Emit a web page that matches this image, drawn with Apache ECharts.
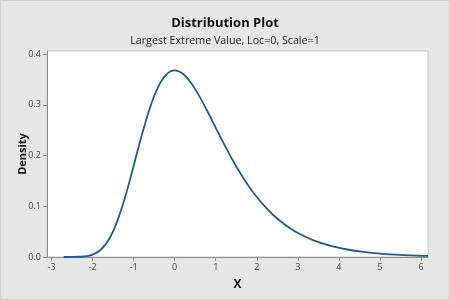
<!DOCTYPE html>
<html>
<head>
<meta charset="utf-8">
<script src="https://cdn.jsdelivr.net/npm/echarts@6/dist/echarts.min.js"></script>
<style>
  html, body { margin: 0; padding: 0; background: #e6e6e6; }
  #chart { width: 448px; height: 298px; border: 1px solid #cfcfcf; }
</style>
</head>
<body>
<div id="chart"></div>
<script>
// x positions and density
var xs = [-2.7, -2.5, -2.3, -2.1, -2.0, -1.8, -1.6, -1.4, -1.2, -1.0, -0.8, -0.6, -0.4, -0.2, 0,
  0.2, 0.4, 0.6, 0.8, 1.0, 1.2, 1.4, 1.6, 1.8, 2.0, 2.2, 2.4, 2.6, 2.8, 3.0, 3.4, 3.8, 4.2, 4.6, 5.0, 5.5, 6.0, 6.17];
var density = [0.0000, 0.0001, 0.0005, 0.0024, 0.0046, 0.0143, 0.0350, 0.0703, 0.1200, 0.1794, 0.2404, 0.2946, 0.3357, 0.3600, 0.3679,
  0.3611, 0.3429, 0.3170, 0.2867, 0.2546, 0.2229, 0.1927, 0.1650, 0.1401, 0.1182, 0.0992, 0.0828, 0.0690, 0.0572, 0.0474, 0.0323, 0.0219, 0.0148, 0.0100, 0.0067, 0.0041, 0.0025, 0.0021];
var xTicks = [-3, -2, -1, 0, 1, 2, 3, 4, 5, 6];
var yTicks = [0, 0.1, 0.2, 0.3, 0.4];

var chart = echarts.init(document.getElementById("chart"));
var font = "'Open Sans', 'Noto Sans', sans-serif";
var points = xs.map(function (x, i) { return [x, density[i]]; });

var option = {
  backgroundColor: "#e6e6e6",
  animation: false,
  title: [
    {
      text: "Distribution Plot",
      left: "center",
      top: 11,
      textStyle: { fontFamily: font, fontSize: 13, fontWeight: "bold", color: "#111" }
    },
    {
      text: "Largest Extreme Value, Loc=0, Scale=1",
      left: "center",
      top: 29,
      textStyle: { fontFamily: font, fontSize: 10.7, fontWeight: "normal", color: "#222" }
    }
  ],
  grid: {
    left: 46, top: 50, right: 21, bottom: 42,
    show: true,
    backgroundColor: "#fff",
    borderColor: "#c8c8c8",
    borderWidth: 1
  },
  xAxis: {
    type: "value",
    min: -3.11,
    max: 6.17,
    name: "X",
    nameLocation: "middle",
    nameGap: 22,
    nameTextStyle: { fontFamily: font, fontSize: 12, fontWeight: "bold", color: "#111" },
    axisLine: { show: true, onZero: false, lineStyle: { color: "#8c8c8c", width: 1 } },
    axisTick: { show: true, length: 4, customValues: xTicks, lineStyle: { color: "#8c8c8c" } },
    axisLabel: { customValues: xTicks, fontFamily: font, fontSize: 9, color: "#444", margin: 6 },
    splitLine: { show: false }
  },
  yAxis: {
    type: "value",
    min: 0,
    max: 0.406,
    name: "Density",
    nameLocation: "middle",
    nameGap: 19,
    nameMoveOverlap: false,
    nameTextStyle: { fontFamily: font, fontSize: 11, fontWeight: "bold", color: "#111" },
    axisLine: { show: true, onZero: false, lineStyle: { color: "#8c8c8c", width: 1 } },
    axisTick: { show: true, length: 4, customValues: yTicks, lineStyle: { color: "#8c8c8c" } },
    axisLabel: {
      customValues: yTicks,
      fontFamily: font, fontSize: 9, color: "#444", margin: 6,
      formatter: function (v) { return v.toFixed(1); }
    },
    splitLine: { show: false }
  },
  series: [
    {
      type: "line",
      data: points,
      smooth: 0.3,
      symbol: "none",
      lineStyle: { color: "#1f5a9a", width: 1.8 }
    }
  ]
};
chart.setOption(option);
</script>
</body>
</html>
